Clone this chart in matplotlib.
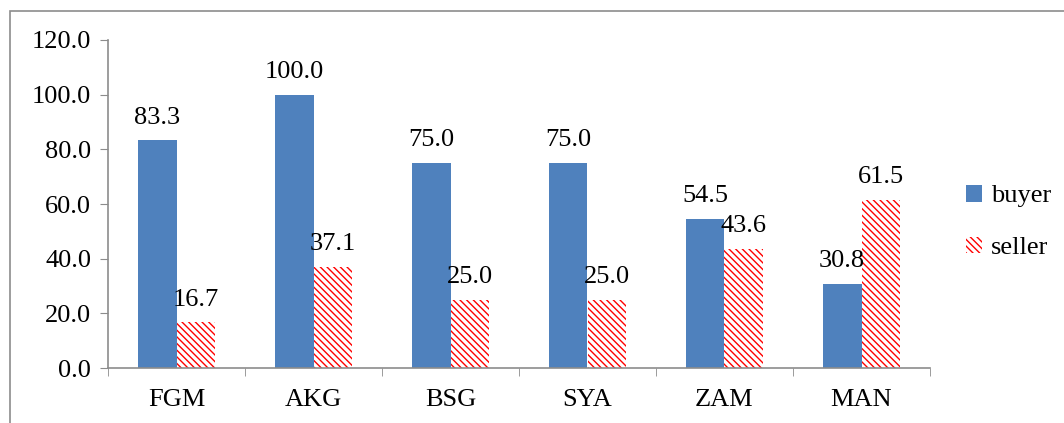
import numpy as np
import matplotlib.pyplot as plt
import matplotlib.patches as mpatches

plt.rcParams['font.family'] = ['Liberation Serif', 'DejaVu Serif']
plt.rcParams['hatch.linewidth'] = 1.0

# data
sites = ['FGM', 'AKG', 'BSG', 'SYA', 'ZAM', 'MAN']
buyer = [83.3, 100.0, 75.0, 75.0, 54.5, 30.8]
seller = [16.7, 37.1, 25.0, 25.0, 43.6, 61.5]

fs = 19

fig = plt.figure(figsize=(10.64, 4.23), dpi=100)
ax = fig.add_axes([108 / 1064, 1 - 368 / 423, (930 - 108) / 1064, (368 - 40) / 423])

# outer chart border
fig.patches.append(mpatches.Rectangle((10 / 1064, -0.1), 1.2, 1 - 11 / 423 + 0.1,
                                      transform=fig.transFigure, fill=False,
                                      edgecolor='#8c8c8c', linewidth=1.2))

x = np.arange(len(sites))
w = 0.283
b1 = ax.bar(x - w / 2, buyer, w, color='#4f81bd', label='buyer')
b2 = ax.bar(x + w / 2, seller, w, color='white', edgecolor='#ff0000',
            hatch='\\\\\\\\\\', linewidth=0, label='seller')

for rect, v in zip(b1, buyer):
    ax.annotate(f'{v:.1f}', (rect.get_x() + rect.get_width() / 2, v),
                xytext=(0, 8.5), textcoords='offset points', ha='center', va='bottom', fontsize=fs)
for rect, v in zip(b2, seller):
    ax.annotate(f'{v:.1f}', (rect.get_x() + rect.get_width() / 2, v),
                xytext=(0, 8.5), textcoords='offset points', ha='center', va='bottom', fontsize=fs)

ax.set_xlim(-0.5, len(sites) - 0.5)
ax.set_ylim(0, 120)
ax.set_yticks(np.arange(0, 121, 20))
ax.set_yticklabels([f'{t:.1f}' for t in np.arange(0, 121, 20)], fontsize=fs)
ax.set_xticks(x)
ax.set_xticklabels(sites, fontsize=fs)
ax.set_xticks(np.arange(-0.5, len(sites), 1), minor=True)
ax.tick_params(axis='x', which='major', length=0, pad=15)
ax.tick_params(axis='x', which='minor', length=6, color='#8c8c8c', direction='out')
ax.tick_params(axis='y', length=6, color='#8c8c8c', direction='out', pad=6)

for s in ['top', 'right']:
    ax.spines[s].set_visible(False)
for s in ['left', 'bottom']:
    ax.spines[s].set_color('#8c8c8c')
    ax.spines[s].set_linewidth(1.2)

fig.legend(handles=[b1, b2], loc='center left', bbox_to_anchor=(966 / 1064, 1 - 222 / 423),
           frameon=False, fontsize=fs, handlelength=0.6, handleheight=0.6,
           handletextpad=0.35, labelspacing=1.1, borderpad=0, borderaxespad=0)

fig.savefig('out.png', dpi=100)
